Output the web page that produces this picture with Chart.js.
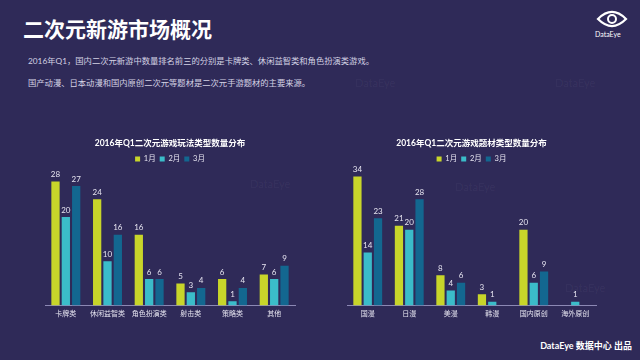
<!DOCTYPE html>
<html>
<head>
<meta charset="utf-8">
<script src="https://cdn.jsdelivr.net/npm/chart.js@4/dist/chart.umd.min.js"></script>
<style>
  body { margin: 0; width: 640px; height: 360px; background: #2f2a58; overflow: hidden;
         font-family: Lato, "Noto Sans CJK SC", sans-serif; position: relative; }
  .abs { position: absolute; white-space: nowrap; }
  #title { left: 23px; top: 13px; font-size: 21px; font-weight: bold; color: #fff; }
  .note { left: 28px; font-size: 8.3px; color: #d4d2e4; }
  #footer { right: 8px; top: 339px; font-size: 9px; font-weight: bold; color: #fff; }
  #logoText { left: 595px; top: 30px; font-size: 7px; color: #fff; }
  .wm { font-size: 11px; color: rgba(255,255,255,0.05); }
  canvas { position: absolute; }
</style>
</head>
<body>
<div id="title" class="abs">二次元新游市场概况</div>
<div class="abs note" style="top:54px">2016年Q1，国内二次元新游中数量排名前三的分别是卡牌类、休闲益智类和角色扮演类游戏。</div>
<div class="abs note" style="top:76px">国产动漫、日本动漫和国内原创二次元等题材是二次元手游题材的主要来源。</div>
<div class="abs wm" style="left:355px;top:76px">DataEye</div>
<div class="abs wm" style="left:555px;top:76px">DataEye</div>
<div class="abs wm" style="left:250px;top:177px">DataEye</div>
<div class="abs wm" style="left:455px;top:180px">DataEye</div>
<div class="abs wm" style="left:565px;top:281px">DataEye</div>
<svg class="abs" style="left:596px;top:9px" width="32" height="20" viewBox="0 0 32 20">
  <path d="M2 10 Q16 -4 30 10 Q16 24 2 10 Z" fill="none" stroke="#fff" stroke-width="2.2"/>
  <circle cx="16" cy="10" r="4" fill="none" stroke="#fff" stroke-width="2"/>
</svg>
<div id="logoText" class="abs">DataEye</div>
<div id="footer" class="abs">DataEye 数据中心 出品</div>

<canvas id="playChart" style="left:40px;top:130px" width="270" height="192"></canvas>
<canvas id="themeChart" style="left:330px;top:130px" width="290" height="192"></canvas>

<script>
// data
const months = ["1月", "2月", "3月"];

const playTitle = "2016年Q1二次元游戏玩法类型数量分布";
const playCategories = ["卡牌类", "休闲益智类", "角色扮演类", "射击类", "策略类", "其他"];
const playJan = [28, 24, 16, 5, 6, 7];
const playFeb = [20, 10, 6, 3, 1, 6];
const playMar = [27, 16, 6, 4, 4, 9];

const themeTitle = "2016年Q1二次元游戏题材类型数量分布";
const themeCategories = ["国漫", "日漫", "美漫", "韩漫", "国内原创", "海外原创"];
const themeJan = [34, 21, 8, 3, 20, 0];
const themeFeb = [14, 20, 4, 1, 6, 1];
const themeMar = [23, 28, 6, 0, 9, 0];

const colors = ["#c8d52a", "#3bbcc9", "#136790"];
const fontFamily = "Lato, 'Noto Sans CJK SC', sans-serif";

// draws the value on top of each bar (zeros are left out)
const valueLabels = {
    id: "valueLabels",
    afterDatasetsDraw(chart) {
        const ctx = chart.ctx;
        ctx.save();
        ctx.fillStyle = "#e6e4f0";
        ctx.font = "8px " + fontFamily;
        ctx.textAlign = "center";
        ctx.textBaseline = "bottom";
        chart.data.datasets.forEach((ds, i) => {
            const meta = chart.getDatasetMeta(i);
            meta.data.forEach((bar, j) => {
                if (ds.data[j] > 0) {
                    ctx.fillText(ds.data[j], bar.x, bar.y - 3);
                }
            });
        });
        ctx.restore();
    }
};

function makeChart(id, title, categories, jan, feb, mar, yMax, pad) {
    const series = [jan, feb, mar];
    return new Chart(document.getElementById(id), {
        type: "bar",
        data: {
            labels: categories,
            datasets: series.map((values, i) => ({
                label: months[i],
                data: values,
                backgroundColor: colors[i],
                categoryPercentage: 0.745,
                barPercentage: 0.8
            }))
        },
        options: {
            responsive: false,
            animation: false,
            layout: { padding: pad },
            plugins: {
                title: {
                    display: true,
                    text: title,
                    color: "#ffffff",
                    font: { family: fontFamily, size: 8.5, weight: "bold" },
                    padding: { top: 8, bottom: 3 }
                },
                legend: {
                    labels: {
                        color: "#e6e4f0",
                        font: { family: fontFamily, size: 7.5 },
                        boxWidth: 5,
                        boxHeight: 5,
                        padding: 4
                    }
                },
                tooltip: { enabled: false }
            },
            scales: {
                x: {
                    grid: { display: false, drawTicks: false },
                    border: { color: "#8c88b4", width: 1 },
                    ticks: {
                        color: "#e6e4f0",
                        font: { family: fontFamily, size: 7 },
                        padding: 4,
                        autoSkip: false,
                        maxRotation: 0,
                        minRotation: 0
                    }
                },
                y: {
                    display: false,
                    min: 0,
                    max: yMax
                }
            }
        },
        plugins: [valueLabels]
    });
}

makeChart("playChart", playTitle, playCategories, playJan, playFeb, playMar, 30,
    { left: 5, right: 15, top: 0, bottom: 0 });
makeChart("themeChart", themeTitle, themeCategories, themeJan, themeFeb, themeMar, 35,
    { left: 17, right: 24, top: 0, bottom: 0 });
</script>
</body>
</html>
